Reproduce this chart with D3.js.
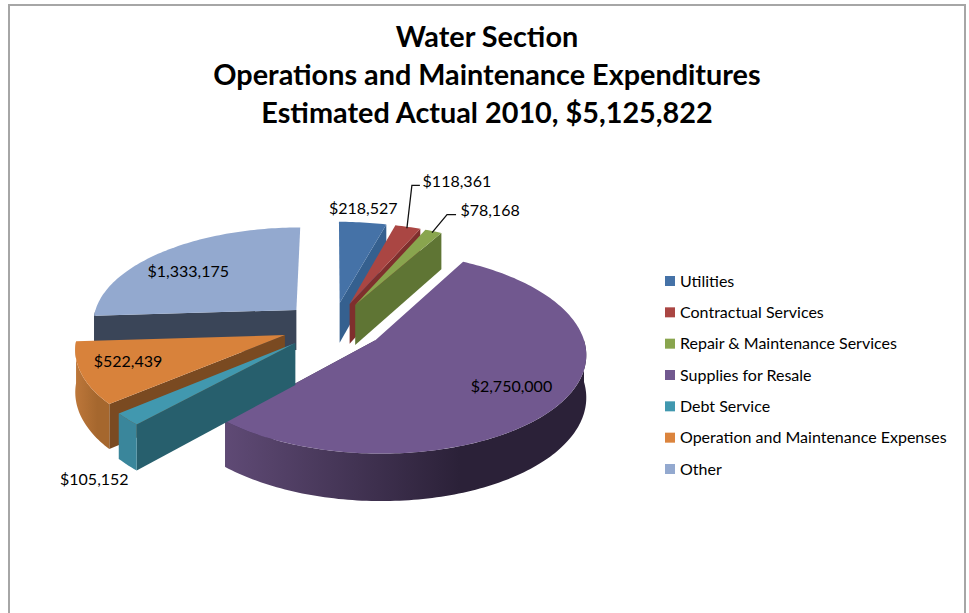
<!DOCTYPE html>
<html>
<head>
<meta charset="utf-8">
<script src="https://cdnjs.cloudflare.com/ajax/libs/d3/7.8.5/d3.min.js"></script>
<style>
  html, body { margin: 0; padding: 0; background: #fff; }
  svg { display: block; }
  text { font-family: Lato, "Open Sans", sans-serif; fill: #000; }
</style>
</head>
<body>
<svg id="chart" width="969" height="613"></svg>
<script>
// Data
const titleLines = ["Water Section", "Operations and Maintenance Expenditures", "Estimated Actual 2010, $5,125,822"];
const categories = ["Utilities", "Contractual Services", "Repair & Maintenance Services", "Supplies for Resale", "Debt Service", "Operation and Maintenance Expenses", "Other"];
const values = [218527, 118361, 78168, 2750000, 105152, 522439, 1333175];

// Colours
const legendColors = ["#4572A7", "#AA4643", "#89A54E", "#71588F", "#4198AF", "#DB843D", "#93A9CF"];
const topColors    = ["#4572A7", "#AA4643", "#89A54E", "#71588F", "#4198AF", "#D8823B", "#93A9CF"];
const sideColors   = ["#35608F", "#7F2F2D", "#5F7534", "#3D3050", "#275F6D", "#7A4A21", "#3A4558"];
const wallFrom     = ["#4572A7", "#AA4643", "#89A54E", "#5F4A75", "#3A869B", "#BD773A", "#3A4558"];
const wallTo       = ["#4572A7", "#AA4643", "#89A54E", "#2B2138", "#3A869B", "#A5672E", "#3A4558"];

// Projection of the pie plane, with some perspective
const cx = 333, cy = 326, rx = 205, ry = 96, depth = 41;
const persp = 0.12, explode = 0.25;

const project = (u, v, z = 0) => {
  const w = 1 - persp * v;
  return [cx + rx * u / w, cy + (ry * v + depth * z) / w];
};

const svg = d3.select("#chart");
const defs = svg.append("defs");
const closed = d3.line().curve(d3.curveLinearClosed);
const fmt = d3.format("$,");

const slices = d3.pie().sort(null).value(d => d)(values).map((d, i) => {
  const mid = (d.startAngle + d.endAngle) / 2;
  return {
    i,
    start: d.startAngle,
    end: d.endAngle,
    mid,
    ou: explode * Math.sin(mid),
    ov: -explode * Math.cos(mid)
  };
});

const onRim = (s, a, r = 1, z = 0) =>
  project(s.ou + r * Math.sin(a), s.ov - r * Math.cos(a), z);

const arcAngles = (a0, a1) => {
  const n = Math.max(2, Math.ceil((a1 - a0) / 0.02));
  return d3.range(n + 1).map(k => a0 + (a1 - a0) * k / n);
};

// Frame
svg.append("path")
  .attr("d", "M9,613V5H965V613")
  .attr("fill", "none").attr("stroke", "#A6A6A6").attr("stroke-width", 2);

// Title
svg.append("g").selectAll("text").data(titleLines).join("text")
  .attr("x", 487)
  .attr("y", (d, i) => 47 + i * 38)
  .attr("text-anchor", "middle")
  .attr("font-size", 28.8)
  .attr("font-weight", 700)
  .text(d => d);

// Slices, back to front
const pieG = svg.append("g");
slices.slice().sort((a, b) => a.ov - b.ov).forEach(s => {
  const g = pieG.append("g").attr("class", "slice");
  const apexTop = project(s.ou, s.ov);
  const apexBot = project(s.ou, s.ov, 1);

  // radial wall facing the viewer: the leading edge in the lower half, the trailing edge on the right
  const wallAngle = s.mid < Math.PI ? s.end : s.start;
  g.append("path")
    .attr("d", closed([apexTop, onRim(s, wallAngle), onRim(s, wallAngle, 1, 1), apexBot]))
    .attr("fill", sideColors[s.i]);

  // outer wall, only the part on the near side of the pie
  const a0 = Math.max(s.start, Math.PI / 2), a1 = Math.min(s.end, Math.PI * 1.5);
  if (a1 > a0) {
    const angles = arcAngles(a0, a1);
    const top = angles.map(a => onRim(s, a));
    const bot = angles.map(a => onRim(s, a, 1, 1)).reverse();
    const xs = top.concat(bot).map(p => p[0]);
    const id = "wall" + s.i;
    const grad = defs.append("linearGradient").attr("id", id)
      .attr("gradientUnits", "userSpaceOnUse")
      .attr("x1", d3.min(xs)).attr("x2", d3.max(xs)).attr("y1", 0).attr("y2", 0);
    grad.append("stop").attr("offset", 0).attr("stop-color", wallFrom[s.i]);
    grad.append("stop").attr("offset", 0.65).attr("stop-color", wallTo[s.i]);
    grad.append("stop").attr("offset", 1).attr("stop-color", wallTo[s.i]);
    g.append("path").attr("d", closed(top.concat(bot))).attr("fill", `url(#${id})`);
  }

  // top face
  const face = [apexTop].concat(arcAngles(s.start, s.end).map(a => onRim(s, a)));
  g.append("path").attr("d", closed(face)).attr("fill", topColors[s.i]);
});

// Data labels: distance along the slice middle, then a nudge to the centre of the text
const labelR  = [1.02, 0.98, 0.98, 0.6, 1.15, 0.75, 0.6];
const labelDx = [0, 50, 58, 28, -5, -6, -26];
const labelDy = [-14, -48, -23, 9, 47, -3, -3];
const leaderElbow = [0, 45, 43, 0, 0, 0, 0];
const leaderEnd   = [0, 37, 34, 0, 0, 0, 0];

slices.forEach(s => {
  const p = onRim(s, s.mid, labelR[s.i]);
  const lx = p[0] + labelDx[s.i], ly = p[1] + labelDy[s.i];
  svg.append("text")
    .attr("x", lx).attr("y", ly)
    .attr("text-anchor", "middle").attr("dominant-baseline", "central")
    .attr("font-size", 16)
    .text(fmt(values[s.i]));
  if (leaderElbow[s.i]) {
    svg.append("path")
      .attr("d", d3.line()([p, [lx - leaderElbow[s.i], ly + 5], [lx - leaderEnd[s.i], ly + 5]]))
      .attr("fill", "none").attr("stroke", "#111").attr("stroke-width", 1.3);
  }
});

// Legend
const legendY = d3.scalePoint().domain(categories).range([281, 469]);
const legend = svg.append("g").selectAll("g").data(categories).join("g")
  .attr("transform", d => `translate(665,${legendY(d)})`);
legend.append("rect")
  .attr("y", -5).attr("width", 10).attr("height", 10)
  .attr("fill", (d, i) => legendColors[i]);
legend.append("text")
  .attr("x", 15).attr("y", -1).attr("dominant-baseline", "central")
  .attr("font-size", 16)
  .text(d => d);
</script>
</body>
</html>
